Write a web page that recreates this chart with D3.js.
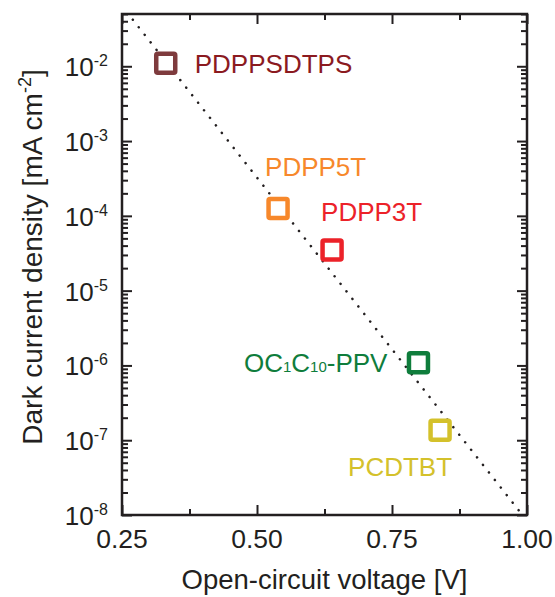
<!DOCTYPE html>
<html>
<head>
<meta charset="utf-8">
<script src="https://cdn.jsdelivr.net/npm/d3@7"></script>
<style>
  body { margin: 0; background: #fff; }
  text { font-family: "Liberation Sans", Arial, Helvetica, sans-serif; fill: #231f20; }
</style>
</head>
<body>
<svg id="chart" width="555" height="597"></svg>
<script>
// materials, open-circuit voltage [V] and dark current density [mA cm-2]
var names = ["PDPPSDTPS", "PDPP5T", "PDPP3T", "OC1C10-PPV", "PCDTBT"];
var voc = [0.331, 0.539, 0.639, 0.799, 0.839];
var jdark = [1.1e-2, 1.25e-4, 3.5e-5, 1.09e-6, 1.36e-7];
var colors = ["#7e3b3d", "#f7882b", "#ec2229", "#0f7d3c", "#d4c12b"];
var textColors = ["#8b1a1f", "#f7882b", "#ec2229", "#0f7d3c", "#d4c12b"];

// dotted guide line, two end points
var guideV = [0.27, 0.987];
var guideJ = [0.042, 1.1e-8];

var xTicks = [0.25, 0.50, 0.75, 1.00];
var xMinor = [0.375, 0.625, 0.875];
var yExps = [-8, -7, -6, -5, -4, -3, -2];

var svg = d3.select("#chart");
var margin = {top: 14, right: 28, bottom: 82, left: 122};
var width = 555 - margin.left - margin.right;
var height = 597 - margin.top - margin.bottom;

var g = svg.append("g")
    .attr("transform", "translate(" + margin.left + "," + margin.top + ")");

var x = d3.scaleLinear().domain([0.25, 1.0]).range([0, width]);
var y = d3.scaleLog().domain([1e-8, 0.05]).range([height, 0]);

// minor log ticks
var yMinor = [];
for (var e = -8; e <= -2; e++) {
    for (var m = 2; m <= 9; m++) {
        var v = m * Math.pow(10, e);
        if (v <= 0.05) yMinor.push(v);
    }
}

var axisColor = "#231f20";

// inward ticks on all four sides
function addAxis(axis, transform) {
    var a = g.append("g").attr("transform", transform).call(axis);
    a.select(".domain").remove();
    a.selectAll("line").attr("stroke", axisColor).attr("stroke-width", 2);
    return a;
}

addAxis(d3.axisBottom(x).tickValues(xTicks).tickSize(-10).tickFormat(""), "translate(0," + height + ")");
addAxis(d3.axisBottom(x).tickValues(xMinor).tickSize(-6).tickFormat(""), "translate(0," + height + ")");
addAxis(d3.axisTop(x).tickValues(xTicks).tickSize(-10).tickFormat(""), "translate(0,0)");
addAxis(d3.axisTop(x).tickValues(xMinor).tickSize(-6).tickFormat(""), "translate(0,0)");

var yMajorVals = yExps.map(function(e) { return Math.pow(10, e); });
addAxis(d3.axisLeft(y).tickValues(yMajorVals).tickSize(-10).tickFormat(""), "translate(0,0)");
addAxis(d3.axisLeft(y).tickValues(yMinor).tickSize(-6).tickFormat(""), "translate(0,0)");
addAxis(d3.axisRight(y).tickValues(yMajorVals).tickSize(-10).tickFormat(""), "translate(" + width + ",0)");
addAxis(d3.axisRight(y).tickValues(yMinor).tickSize(-6).tickFormat(""), "translate(" + width + ",0)");

// frame
g.append("rect")
    .attr("width", width).attr("height", height)
    .attr("fill", "none").attr("stroke", axisColor).attr("stroke-width", 2.5);

// x tick labels
g.selectAll(".xlab")
    .data(xTicks)
    .enter().append("text")
    .attr("class", "xlab")
    .attr("x", function(d) { return x(d); })
    .attr("y", height + 33)
    .attr("text-anchor", "middle")
    .style("font-size", "26.5px")
    .text(function(d) { return d.toFixed(2); });

// y tick labels 10^e
var ylab = g.selectAll(".ylab")
    .data(yExps)
    .enter().append("text")
    .attr("class", "ylab")
    .attr("x", -14)
    .attr("y", function(d) { return y(Math.pow(10, d)) + 10; })
    .attr("text-anchor", "end")
    .style("font-size", "26px");
ylab.append("tspan").text("10");
ylab.append("tspan")
    .attr("dy", -10)
    .style("font-size", "16px")
    .text(function(d) { return String(d); });

// axis titles
svg.append("text")
    .attr("x", margin.left + width / 2)
    .attr("y", 589)
    .attr("text-anchor", "middle")
    .style("font-size", "27.5px")
    .text("Open-circuit voltage [V]");

var yt = svg.append("text")
    .attr("transform", "translate(42,257) rotate(-90)")
    .attr("text-anchor", "middle")
    .style("font-size", "28px");
yt.append("tspan").text("Dark current density [mA cm");
yt.append("tspan").attr("dy", -11).style("font-size", "18px").text("-2");
yt.append("tspan").attr("dy", 11).text("]");

// dotted guide
g.append("line")
    .attr("x1", x(guideV[0])).attr("y1", y(guideJ[0]))
    .attr("x2", x(guideV[1])).attr("y2", y(guideJ[1]))
    .attr("stroke", axisColor)
    .attr("stroke-width", 2.5)
    .attr("stroke-linecap", "round")
    .attr("stroke-dasharray", "0.1 9.5");

// square markers
var s = 19;
g.selectAll(".pt")
    .data(names)
    .enter().append("rect")
    .attr("class", "pt")
    .attr("x", function(d, i) { return x(voc[i]) - s / 2; })
    .attr("y", function(d, i) { return y(jdark[i]) - s / 2; })
    .attr("width", s).attr("height", s)
    .attr("rx", 1.5)
    .attr("fill", "#fff")
    .attr("stroke", function(d, i) { return colors[i]; })
    .attr("stroke-width", 4.5);

// labels, placed relative to the markers
var labelPos = {
    "PDPPSDTPS": {dx: 29, dy: 10, anchor: "start"},
    "PDPP5T": {dx: -13, dy: -33, anchor: "start"},
    "PDPP3T": {dx: -11, dy: -29, anchor: "start"},
    "OC1C10-PPV": {dx: -31, dy: 9, anchor: "end"},
    "PCDTBT": {dx: 12, dy: 46, anchor: "end"}
};

names.forEach(function(n, i) {
    var p = labelPos[n];
    var t = g.append("text")
        .attr("x", x(voc[i]) + p.dx)
        .attr("y", y(jdark[i]) + p.dy)
        .attr("text-anchor", p.anchor)
        .style("font-size", "26px")
        .style("fill", textColors[i]);
    if (n === "OC1C10-PPV") {
        t.append("tspan").text("OC");
        t.append("tspan").style("font-size", "15px").text("1");
        t.append("tspan").text("C");
        t.append("tspan").style("font-size", "15px").text("10");
        t.append("tspan").text("-PPV");
    } else {
        t.text(n);
    }
});
</script>
</body>
</html>
